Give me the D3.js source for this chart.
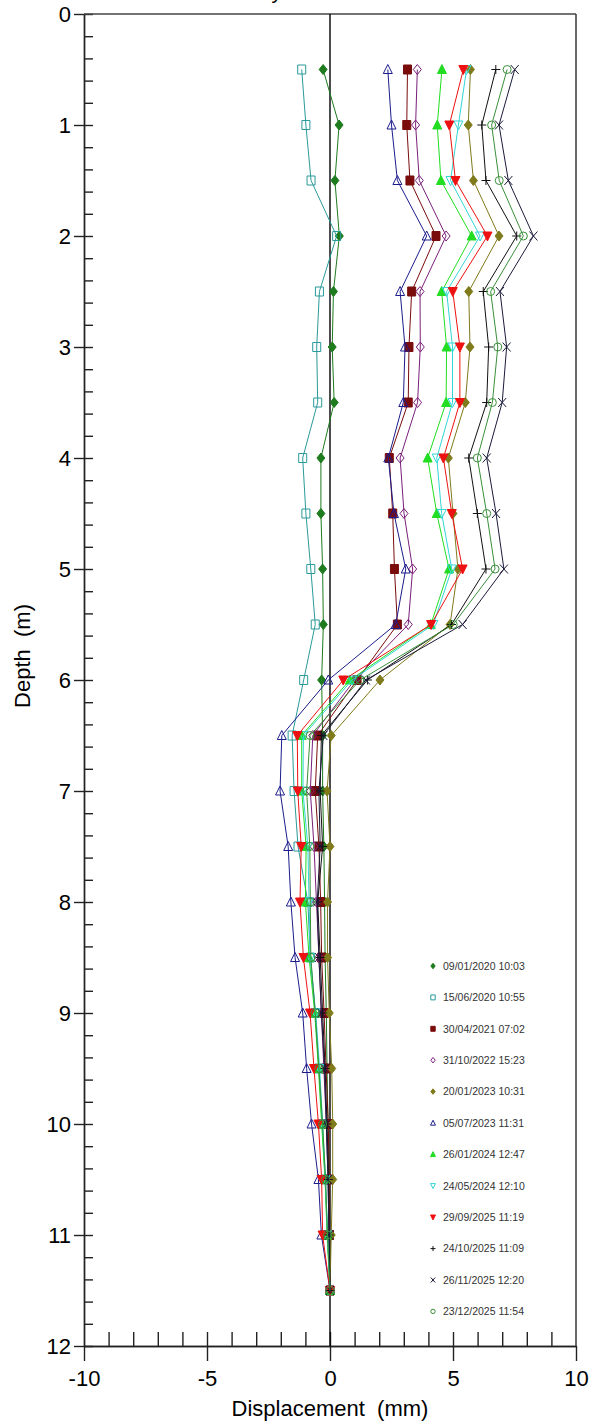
<!DOCTYPE html>
<html>
<head>
<meta charset="utf-8">
<script src="https://cdn.jsdelivr.net/npm/d3@7"></script>
<style>
  body { margin: 0; background: #fff; }
  text { font-family: Arial, "Liberation Sans", sans-serif; }
</style>
</head>
<body>
<div id="chart"></div>
<script>
// depth of each reading (m)
var depths = [0.5, 1, 1.5, 2, 2.5, 3, 3.5, 4, 4.5, 5, 5.5, 6, 6.5, 7, 7.5, 8, 8.5, 9, 9.5, 10, 10.5, 11, 11.5];

// survey dates, legend order
var dates = ['09/01/2020 10:03', '15/06/2020 10:55', '30/04/2021 07:02', '31/10/2022 15:23',
  '20/01/2023 10:31', '05/07/2023 11:31', '26/01/2024 12:47', '24/05/2024 12:10',
  '29/09/2025 11:19', '24/10/2025 11:09', '26/11/2025 12:20', '23/12/2025 11:54'];

// displacement (mm) per survey, one value per depth
var r20200109 = [-0.28, 0.37, 0.2, 0.38, 0.14, 0.09, 0.17, -0.37, -0.37, -0.3, -0.27, -0.34, -0.3, -0.3, -0.25, -0.22, -0.2, -0.15, -0.12, -0.08, -0.05, -0.03, 0];
var r20200615 = [-1.15, -0.98, -0.77, 0.27, -0.43, -0.54, -0.5, -1.11, -0.98, -0.78, -0.6, -1.07, -1.54, -1.46, -1.3, -0.9, -0.8, -0.6, -0.45, -0.32, -0.2, -0.1, 0];
var r20210430 = [3.15, 3.12, 3.25, 4.31, 3.32, 3.21, 3.18, 2.41, 2.55, 2.62, 2.74, 1.1, -0.5, -0.6, -0.45, -0.38, -0.34, -0.24, -0.16, -0.07, -0.03, -0.02, 0];
var r20221031 = [3.55, 3.48, 3.63, 4.72, 3.66, 3.67, 3.56, 2.85, 3.01, 3.36, 3.18, 1.0, -0.7, -0.8, -0.65, -0.55, -0.45, -0.35, -0.25, -0.15, -0.08, -0.04, 0];
var r20230120 = [5.71, 5.62, 5.83, 6.87, 5.64, 5.69, 5.5, 4.81, 5.0, 5.2, 4.88, 2.03, 0.05, -0.12, 0.0, -0.1, -0.1, -0.03, 0.07, 0.11, 0.11, 0.05, 0];
var r20230705 = [2.35, 2.5, 2.74, 3.93, 2.85, 3.05, 2.98, 2.37, 2.6, 3.08, 2.67, -0.07, -1.96, -2.03, -1.7, -1.59, -1.42, -1.11, -0.95, -0.75, -0.47, -0.35, 0];
var r20240126 = [4.55, 4.36, 4.51, 5.76, 4.54, 4.74, 4.72, 3.97, 4.34, 4.84, 4.1, 0.81, -1.15, -1.15, -0.97, -1.0, -0.85, -0.62, -0.47, -0.34, -0.2, -0.12, 0];
var r20240524 = [5.55, 5.22, 4.9, 6.1, 4.74, 4.98, 4.98, 4.34, 4.54, 4.95, 4.2, 0.9, -1.08, -1.1, -0.9, -0.85, -0.8, -0.58, -0.42, -0.3, -0.18, -0.1, 0];
var r20250929 = [5.42, 4.85, 5.1, 6.4, 4.99, 5.28, 5.28, 4.61, 4.95, 5.39, 4.11, 0.54, -1.33, -1.31, -1.17, -1.22, -1.08, -0.81, -0.65, -0.47, -0.34, -0.3, 0];
var r20251024 = [6.74, 6.17, 6.34, 7.59, 6.23, 6.45, 6.37, 5.64, 5.99, 6.34, 4.94, 1.52, -0.35, -0.4, -0.3, -0.5, -0.4, -0.3, -0.2, -0.12, -0.06, -0.03, 0];
var r20251126 = [7.51, 6.87, 7.25, 8.27, 6.91, 7.18, 7.0, 6.37, 6.75, 7.07, 5.39, 1.46, -0.27, -0.45, -0.4, -0.52, -0.45, -0.35, -0.22, -0.15, -0.08, -0.04, 0];
var r20251223 = [7.2, 6.57, 6.88, 7.86, 6.53, 6.82, 6.6, 5.99, 6.37, 6.71, 5.01, 1.22, -0.81, -0.95, -0.82, -0.8, -0.78, -0.6, -0.45, -0.3, -0.18, -0.1, 0];

var readings = [r20200109, r20200615, r20210430, r20221031, r20230120, r20230705,
  r20240126, r20240524, r20250929, r20251024, r20251126, r20251223];

// look of each survey
var colors = ['#1e7b1e', '#2a9a9a', '#7a0c0c', '#7a1f7a', '#7f7a1a', '#1c1c8c',
  '#22dd22', '#33d6d6', '#ee1111', '#111111', '#1a1a3a', '#3a8f3a'];
var shapes = ['diamond', 'square', 'square', 'diamond', 'diamond', 'triUp',
  'triUp', 'triDown', 'triDown', 'plus', 'cross', 'circle'];
var filled = [true, false, true, false, true, false, true, false, true, false, false, false];

// note: "top" is taken by window.top, so plot edges get their own names
var width = 596, height = 1428;
var plotLeft = 84, plotRight = 576, plotTop = 14, plotBottom = 1346;

var x = d3.scaleLinear().domain([-10, 10]).range([plotLeft, plotRight]);
var y = d3.scaleLinear().domain([0, 12]).range([plotTop, plotBottom]);

function markerPath(shape, k) {
  var p = d3.path();
  if (shape === 'diamond') {
    p.moveTo(0, -5 * k); p.lineTo(4 * k, 0); p.lineTo(0, 5 * k); p.lineTo(-4 * k, 0); p.closePath();
  } else if (shape === 'square') {
    p.rect(-4 * k, -4.5 * k, 8 * k, 9 * k);
  } else if (shape === 'triUp') {
    p.moveTo(0, -5 * k); p.lineTo(4.5 * k, 4 * k); p.lineTo(-4.5 * k, 4 * k); p.closePath();
  } else if (shape === 'triDown') {
    p.moveTo(0, 5 * k); p.lineTo(4.5 * k, -4 * k); p.lineTo(-4.5 * k, -4 * k); p.closePath();
  } else if (shape === 'circle') {
    p.moveTo(4 * k, 0); p.arc(0, 0, 4 * k, 0, 2 * Math.PI);
  } else if (shape === 'plus') {
    p.moveTo(-4.5 * k, 0); p.lineTo(4.5 * k, 0); p.moveTo(0, -4.5 * k); p.lineTo(0, 4.5 * k);
  } else if (shape === 'cross') {
    p.moveTo(-4 * k, -4.5 * k); p.lineTo(4 * k, 4.5 * k); p.moveTo(-4 * k, 4.5 * k); p.lineTo(4 * k, -4.5 * k);
  }
  return p.toString();
}

// plain hyphen minus like the original, not the unicode one d3 uses
var plain = function (d) { return String(d); };

var svg = d3.select('#chart').append('svg')
  .attr('width', width)
  .attr('height', height);

// title, almost entirely above the visible area (only a descender shows)
svg.append('text')
  .attr('x', 282)
  .attr('y', -1)
  .attr('text-anchor', 'end')
  .style('font-size', '21px')
  .text('Cumulative Ay');

// y axis: labelled ticks outside, minor ticks inside
var yAxis = svg.append('g')
  .attr('transform', 'translate(' + plotLeft + ',0)')
  .call(d3.axisLeft(y).tickValues(d3.range(0, 13)).tickSize(10).tickSizeOuter(0).tickPadding(3).tickFormat(plain));
yAxis.selectAll('text').style('font-size', '22px').attr('fill', '#000');

svg.append('g')
  .attr('transform', 'translate(' + plotLeft + ',0)')
  .call(d3.axisRight(y).tickValues(d3.range(0, 61).map(function (i) { return i * 0.2; }))
    .tickSize(9).tickSizeOuter(0).tickFormat(''));

// x axis: labelled ticks outside, 1 mm ticks inside
var xAxis = svg.append('g')
  .attr('transform', 'translate(0,' + plotBottom + ')')
  .call(d3.axisBottom(x).tickValues([-10, -5, 0, 5, 10]).tickSize(15).tickSizeOuter(0).tickPadding(9).tickFormat(plain));
xAxis.selectAll('text').style('font-size', '22px').attr('fill', '#000');

svg.append('g')
  .attr('transform', 'translate(0,' + plotBottom + ')')
  .call(d3.axisTop(x).tickValues(d3.range(-9, 10)).tickSize(14).tickSizeOuter(0).tickFormat(''));

svg.selectAll('.domain, .tick line').attr('stroke', '#222').attr('stroke-width', 1.4);

// frame top and right
svg.append('line')
  .attr('x1', plotLeft).attr('x2', plotRight).attr('y1', plotTop).attr('y2', plotTop)
  .attr('stroke', '#444').attr('stroke-width', 1.6);
svg.append('line')
  .attr('x1', plotRight).attr('x2', plotRight).attr('y1', plotTop).attr('y2', plotBottom)
  .attr('stroke', '#444').attr('stroke-width', 1.6);

// zero line
svg.append('line')
  .attr('x1', x(0)).attr('x2', x(0)).attr('y1', plotTop).attr('y2', plotBottom)
  .attr('stroke', '#000').attr('stroke-width', 1.4);

// axis titles
svg.append('text')
  .attr('x', x(0))
  .attr('y', 1416)
  .attr('text-anchor', 'middle')
  .style('font-size', '22px')
  .style('white-space', 'pre')
  .text('Displacement  (mm)');

svg.append('text')
  .attr('transform', 'translate(30,656) rotate(-90)')
  .attr('text-anchor', 'middle')
  .style('font-size', '22px')
  .style('white-space', 'pre')
  .text('Depth  (m)');

// profiles
var line = d3.line()
  .x(function (d) { return x(d.v); })
  .y(function (d) { return y(d.depth); });

readings.forEach(function (vals, i) {
  var pts = vals.map(function (v, j) { return { depth: depths[j], v: v }; });
  var g = svg.append('g');
  g.append('path')
    .datum(pts)
    .attr('d', line)
    .attr('fill', 'none')
    .attr('stroke', colors[i])
    .attr('stroke-width', 1);
  g.selectAll('path.mk')
    .data(pts)
    .enter()
    .append('path')
    .attr('class', 'mk')
    .attr('transform', function (d) { return 'translate(' + x(d.v) + ',' + y(d.depth) + ')'; })
    .attr('d', markerPath(shapes[i], 1))
    .attr('fill', filled[i] ? colors[i] : 'none')
    .attr('stroke', colors[i])
    .attr('stroke-width', 1);
});

// legend
var legend = svg.append('g').attr('transform', 'translate(433,966)');
var rows = legend.selectAll('g')
  .data(dates)
  .enter()
  .append('g')
  .attr('transform', function (d, i) { return 'translate(0,' + (i * 31.4) + ')'; });
rows.append('path')
  .attr('d', function (d, i) { return markerPath(shapes[i], 0.55); })
  .attr('fill', function (d, i) { return filled[i] ? colors[i] : 'none'; })
  .attr('stroke', function (d, i) { return colors[i]; })
  .attr('stroke-width', 1);
rows.append('text')
  .attr('x', 10)
  .attr('dy', '0.36em')
  .style('font-size', '10.5px')
  .attr('fill', '#333')
  .text(function (d) { return d; });
</script>
</body>
</html>
